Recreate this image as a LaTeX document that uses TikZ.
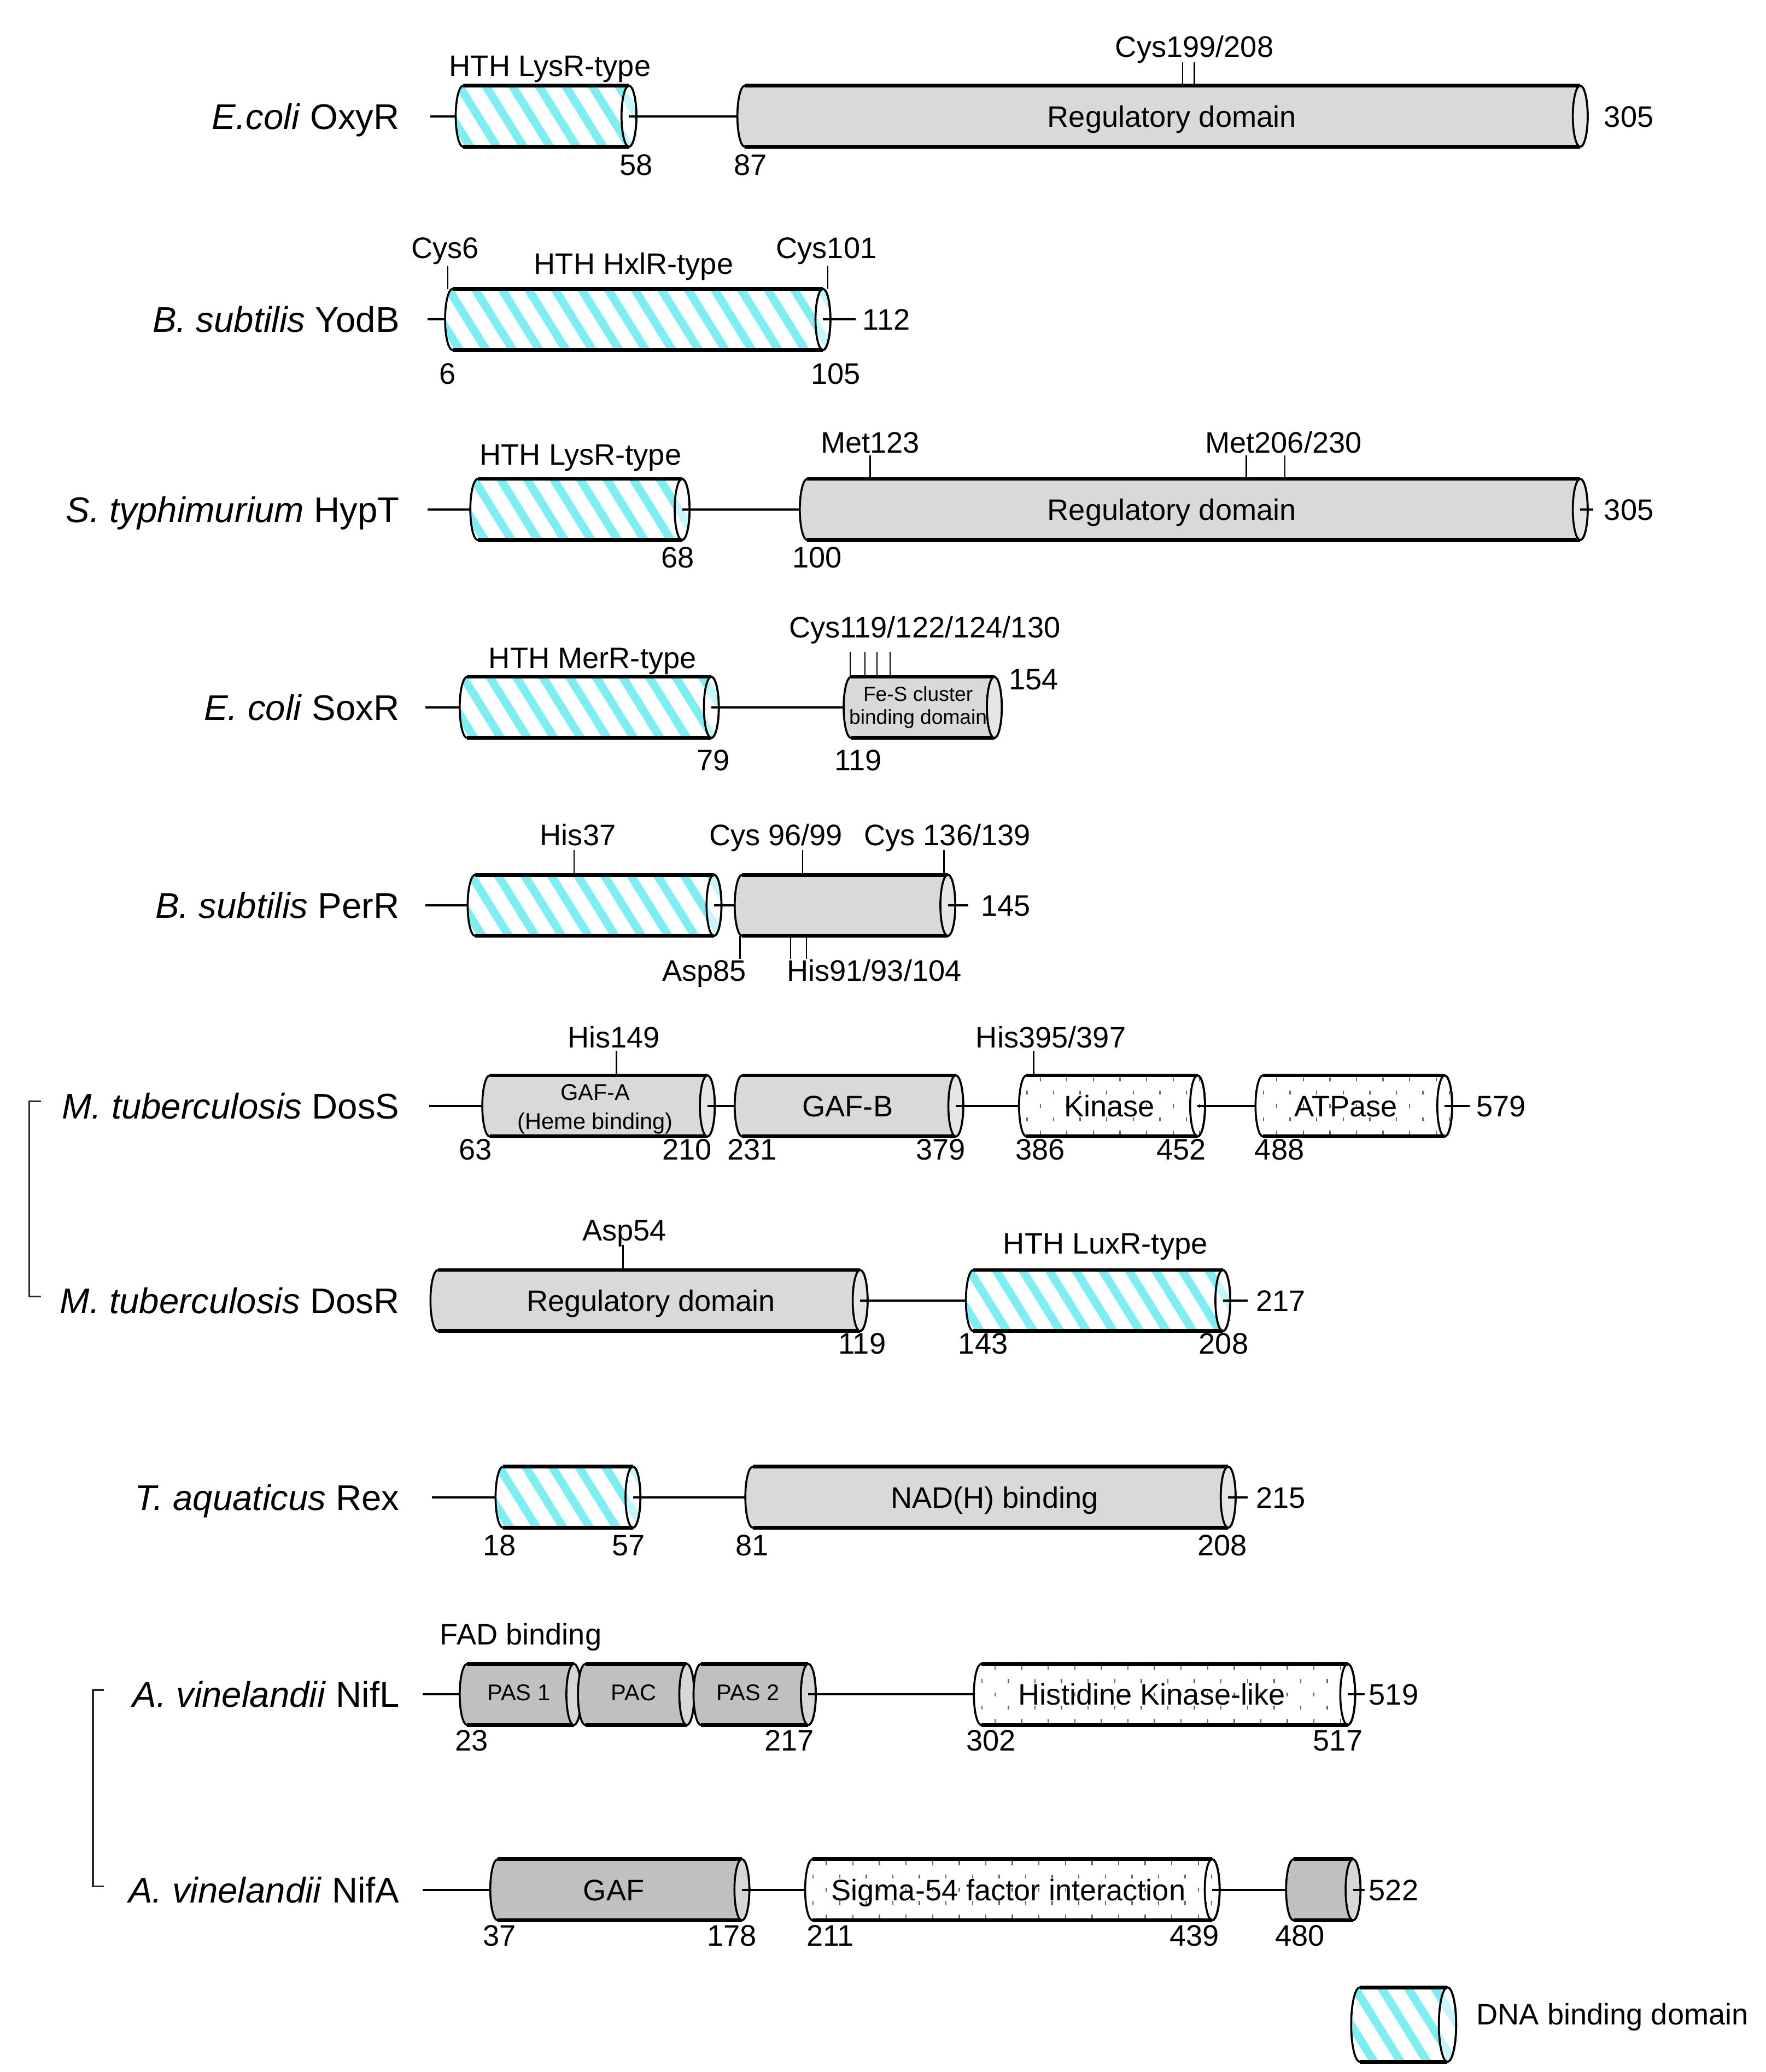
\documentclass[tikz,border=0pt]{standalone}
\usepackage{fontspec}
\setmainfont{Liberation Sans}
\definecolor{dnacyan}{RGB}{125,238,242}
\definecolor{lgray}{RGB}{217,217,217}
\definecolor{lgraycap}{RGB}{230,230,230}
\definecolor{dgray}{RGB}{192,192,192}
\definecolor{dgraycap}{RGB}{215,215,215}
\definecolor{dotcol}{RGB}{105,105,105}
\def\crx{5.6}
\def\chh{23}
\newcommand{\cylpath}[3]{(#1+\crx,#3-\chh) -- (#2-\crx,#3-\chh) .. controls (#2-0.4477*\crx,#3-\chh) and (#2,#3-0.5523*\chh) .. (#2,#3) .. controls (#2,#3+0.5523*\chh) and (#2-0.4477*\crx,#3+\chh) .. (#2-\crx,#3+\chh) -- (#1+\crx,#3+\chh) .. controls (#1+0.4477*\crx,#3+\chh) and (#1,#3+0.5523*\chh) .. (#1,#3) .. controls (#1,#3-0.5523*\chh) and (#1+0.4477*\crx,#3-\chh) .. (#1+\crx,#3-\chh) -- cycle}
\newcommand{\cylends}[4]{\coordinate (#4-w) at (#1,#3); \coordinate (#4-e) at (#2-\crx,#3);}
\newcommand{\cylframe}[3]{%
  \draw[cylside] \cylpath{#1}{#2}{#3};
  \draw[cyledge] (#1+\crx,#3-\chh) -- (#2-\crx,#3-\chh);
  \draw[cyledge] (#1+\crx,#3+\chh) -- (#2-\crx,#3+\chh);}
\newcommand{\graydom}[6]{%
  \cylends{#1}{#2}{#3}{#4}
  \fill[#5] \cylpath{#1}{#2}{#3};
  \cylframe{#1}{#2}{#3}
  \draw[cylside,fill=#6] (#2-\crx,#3) ellipse[x radius=\crx,y radius=\chh];}
\newcommand{\hatchdom}[4]{%
  \cylends{#1}{#2}{#3}{#4}
  \fill[white] \cylpath{#1}{#2}{#3};
  \begin{scope}
    \clip \cylpath{#1}{#2}{#3};
    \pgfmathtruncatemacro{\nst}{(#2-#1)/20+2}
    \foreach \k in {-5,...,\nst}{\draw[stripe] (#1+20*\k,#3-\chh-4) -- ++({0.62*(2*\chh+8)},{2*\chh+8});}
  \end{scope}
  \cylframe{#1}{#2}{#3}
  \draw[cylside,fill=white,fill opacity=0.55] (#2-\crx,#3) ellipse[x radius=\crx,y radius=\chh];}
\newcommand{\dotdom}[4]{%
  \cylends{#1}{#2}{#3}{#4}
  \fill[white] \cylpath{#1}{#2}{#3};
  \begin{scope}
    \clip \cylpath{#1}{#2}{#3};
    \pgfmathtruncatemacro{\ndt}{(#2-#1)/20}
    \foreach \k in {0,...,\ndt}{\foreach \ddy/\ddx in {-20/16,-10/6,0/16,10/6,20/16}{\draw[dotmark] (#1+\ddx+20*\k,#3+\ddy-1.5) -- ++(0,3);}}
  \end{scope}
  \cylframe{#1}{#2}{#3}
  \draw[cylside] (#2-\crx,#3) ellipse[x radius=\crx,y radius=\chh];}
\newcommand{\tickmark}[4]{\coordinate (#1-a) at (#2,#3); \coordinate (#1-b) at (#2,#4); \draw[tick] (#1-a) -- (#1-b);}
\begin{document}
\begin{tikzpicture}[x=0.02cm,y=-0.02cm,
  cylside/.style={line width=0.85pt, line join=round},
  cyledge/.style={line width=1.6pt},
  stripe/.style={dnacyan, line width=3.5pt},
  dotmark/.style={dotcol, line width=0.55pt},
  bb/.style={line width=0.95pt},
  tick/.style={line width=0.55pt},
  bracket/.style={line width=0.8pt, black!85},
  plab/.style={font=\fontsize{15.3}{18}\selectfont, anchor=base east, yshift=-5.5pt, inner sep=0pt},
  txt/.style={font=\fontsize{12.7}{15}\selectfont, anchor=base, yshift=-4.55pt, inner sep=0pt},
  txtw/.style={txt, anchor=base west},
  smalltxt/.style={font=\fontsize{9.75}{11.5}\selectfont, anchor=base, yshift=-3.5pt, inner sep=0pt},
  tinytxt/.style={font=\fontsize{8.7}{10}\selectfont, anchor=base, yshift=-3.1pt, inner sep=0pt}]
\fill[white] (0,0) rectangle (1329.2,1559.7);
\useasboundingbox (0,0) rectangle (1329.2,1559.7);

% ---------- E. coli OxyR
\node[plab] (oxyR) at (301,87.5) {\textit{E.coli} OxyR};
\coordinate (oxy-s) at (324,87.5);
\hatchdom{343}{479}{87.5}{oxyA}
\graydom{555}{1195}{87.5}{oxyB}{lgray}{lgraycap}
\draw[bb] (oxy-s) -- (oxyA-w);
\draw[bb] (oxyA-e) -- (oxyB-w);
\node[txt] (oxyHTH) at (414,49.5) {HTH LysR-type};
\node[txt] (oxyCys) at (899,35) {Cys199/208};
\tickmark{ot1}{890}{47}{64.5}
\tickmark{ot2}{899}{47}{64.5}
\node[txt] (oxyReg) at (882,87.5) {Regulatory domain};
\node[txt] (oxy58) at (479,124) {58};
\node[txt] (oxy87) at (565,124) {87};
\node[txtw] (oxy305) at (1207,87.5) {305};

% ---------- B. subtilis YodB
\node[plab] (yodB) at (301,240.5) {\textit{B. subtilis} YodB};
\coordinate (yod-s) at (322,240.5);
\coordinate (yod-t) at (644,240.5);
\hatchdom{335}{625}{240.5}{yodA}
\draw[bb] (yod-s) -- (yodA-w);
\draw[bb] (yodA-e) -- (yod-t);
\node[txt] (yodC6) at (335,186.5) {Cys6};
\node[txt] (yodC101) at (622,186.5) {Cys101};
\node[txt] (yodHTH) at (477,198.5) {HTH HxlR-type};
\tickmark{yt1}{337}{200}{217.5}
\tickmark{yt2}{623}{200}{217.5}
\node[txt] (yod6) at (337,281) {6};
\node[txt] (yod105) at (629,281) {105};
\node[txtw] (yod112) at (649,240.5) {112};

% ---------- S. typhimurium HypT
\node[plab] (hypT) at (301,383.5) {\textit{S. typhimurium} HypT};
\coordinate (hyp-s) at (322,383.5);
\coordinate (hyp-t) at (1199,383.5);
\hatchdom{354}{519}{383.5}{hypA}
\graydom{602}{1195}{383.5}{hypB}{lgray}{lgraycap}
\draw[bb] (hyp-s) -- (hypA-w);
\draw[bb] (hypA-e) -- (hypB-w);
\draw[bb] (hypB-e) -- (hyp-t);
\node[txt] (hypHTH) at (437,342) {HTH LysR-type};
\node[txt] (hypM1) at (655,333) {Met123};
\node[txt] (hypM2) at (966,333) {Met206/230};
\tickmark{ht1}{655}{343}{360.5}
\tickmark{ht2}{938}{343}{360.5}
\tickmark{ht3}{967}{343}{360.5}
\node[txt] (hypReg) at (882,383.5) {Regulatory domain};
\node[txt] (hyp68) at (510,419.5) {68};
\node[txt] (hyp100) at (615,419.5) {100};
\node[txtw] (hyp305) at (1207,383.5) {305};

% ---------- E. coli SoxR
\node[plab] (soxR) at (301,532.5) {\textit{E. coli} SoxR};
\coordinate (sox-s) at (320,532.5);
\hatchdom{346}{541}{532.5}{soxA}
\graydom{635}{754}{532.5}{soxB}{lgray}{lgraycap}
\draw[bb] (sox-s) -- (soxA-w);
\draw[bb] (soxA-e) -- (soxB-w);
\node[txt] (soxHTH) at (446,495) {HTH MerR-type};
\node[txt] (soxCys) at (696,472) {Cys119/122/124/130};
\tickmark{st1}{640}{491}{509.5}
\tickmark{st2}{651}{491}{509.5}
\tickmark{st3}{660}{491}{509.5}
\tickmark{st4}{670}{491}{509.5}
\node[tinytxt] (soxFe1) at (691,522.5) {Fe-S cluster};
\node[tinytxt] (soxFe2) at (691,539.5) {binding domain};
\node[txt] (sox79) at (537,572) {79};
\node[txt] (sox119) at (646,572) {119};
\node[txt] (sox154) at (778,511) {154};

% ---------- B. subtilis PerR
\node[plab] (perR) at (301,681.5) {\textit{B. subtilis} PerR};
\coordinate (per-s) at (320,681.5);
\coordinate (per-t) at (729,681.5);
\hatchdom{352}{543}{681.5}{perA}
\graydom{553}{719}{681.5}{perB}{lgray}{lgraycap}
\draw[bb] (per-s) -- (perA-w);
\draw[bb] (perA-e) -- (perB-w);
\draw[bb] (perB-e) -- (per-t);
\node[txt] (perH37) at (435,628.5) {His37};
\node[txt] (perC1) at (584,628.5) {Cys 96/99};
\node[txt] (perC2) at (713,628.5) {Cys 136/139};
\tickmark{pt1}{432}{640}{658.5}
\tickmark{pt2}{604}{640}{658.5}
\tickmark{pt3}{710.5}{640}{658.5}
\node[txt] (perD85) at (530,730.5) {Asp85};
\node[txt] (perH91) at (658,730.5) {His91/93/104};
\tickmark{pt4}{557}{704.5}{722}
\tickmark{pt5}{595}{704.5}{722}
\tickmark{pt6}{607}{704.5}{722}
\node[txtw] (per145) at (738,681.5) {145};

% ---------- M. tuberculosis DosS
\node[plab] (dosS) at (301,832.5) {\textit{M. tuberculosis} DosS};
\coordinate (dss-s) at (323,832.5);
\coordinate (dss-t) at (1106,832.5);
\graydom{363}{538}{832.5}{dssA}{lgray}{lgraycap}
\graydom{553}{725}{832.5}{dssB}{lgray}{lgraycap}
\dotdom{767}{907}{832.5}{dssC}
\dotdom{945}{1093}{832.5}{dssD}
\draw[bb] (dss-s) -- (dssA-w);
\draw[bb] (dssA-e) -- (dssB-w);
\draw[bb] (dssB-e) -- (dssC-w);
\draw[bb] (dssC-e) -- (dssD-w);
\draw[bb] (dssD-e) -- (dss-t);
\node[txt] (dssH149) at (462,780.5) {His149};
\node[txt] (dssH395) at (791,780.5) {His395/397};
\tickmark{dt1}{464}{791}{809.5}
\tickmark{dt2}{778}{791}{809.5}
\node[smalltxt] (dssGA) at (448,822) {GAF-A};
\node[smalltxt] (dssHeme) at (448,844) {(Heme binding)};
\node[txt] (dssGB) at (638,832.5) {GAF-B};
\node[txt] (dssK) at (835,832.5) {Kinase};
\node[txt] (dssAT) at (1013,832.5) {ATPase};
\node[txt] (dss63) at (358,865) {63};
\node[txt] (dss210) at (517,865) {210};
\node[txt] (dss231) at (566,865) {231};
\node[txt] (dss379) at (708,865) {379};
\node[txt] (dss386) at (783,865) {386};
\node[txt] (dss452) at (889,865) {452};
\node[txt] (dss488) at (963,865) {488};
\node[txtw] (dss579) at (1111,832.5) {579};

% ---------- M. tuberculosis DosR
\node[plab] (dosR) at (301,979) {\textit{M. tuberculosis} DosR};
\coordinate (dsr-t) at (939,979);
\graydom{324}{653}{979}{dsrA}{lgray}{lgraycap}
\hatchdom{727}{926}{979}{dsrB}
\draw[bb] (dsrA-e) -- (dsrB-w);
\draw[bb] (dsrB-e) -- (dsr-t);
\node[txt] (dsrD54) at (470,926) {Asp54};
\tickmark{rt1}{469}{937}{956}
\node[txt] (dsrHTH) at (832,936) {HTH LuxR-type};
\node[txt] (dsrReg) at (490,979) {Regulatory domain};
\node[txt] (dsr119) at (649,1011) {119};
\node[txt] (dsr143) at (740,1011) {143};
\node[txt] (dsr208) at (921,1011) {208};
\node[txtw] (dsr217) at (945,979) {217};

% bracket DosS / DosR
\coordinate (brA1) at (31,829);
\coordinate (brA2) at (31,976);
\draw[bracket] (brA1) -- ++(-9,0) |- (brA2);

% ---------- T. aquaticus Rex
\node[plab] (rex) at (301,1127) {\textit{T. aquaticus} Rex};
\coordinate (rex-s) at (325,1127);
\coordinate (rex-t) at (939,1127);
\hatchdom{373}{482}{1127}{rexA}
\graydom{561}{930}{1127}{rexB}{lgray}{lgraycap}
\draw[bb] (rex-s) -- (rexA-w);
\draw[bb] (rexA-e) -- (rexB-w);
\draw[bb] (rexB-e) -- (rex-t);
\node[txt] (rexNAD) at (748.5,1127) {NAD(H) binding};
\node[txt] (rex18) at (376,1163) {18};
\node[txt] (rex57) at (473,1163) {57};
\node[txt] (rex81) at (566,1163) {81};
\node[txt] (rex208) at (920,1163) {208};
\node[txtw] (rex215) at (945,1127) {215};

% ---------- A. vinelandii NifL
\node[plab] (nifL) at (301,1275.5) {\textit{A. vinelandii} NifL};
\coordinate (nfl-s) at (318,1275.5);
\coordinate (nfl-t) at (1027,1275.5);
\graydom{346}{437.5}{1275.5}{nflA}{dgray}{dgraycap}
\graydom{435}{522.5}{1275.5}{nflB}{dgray}{dgraycap}
\graydom{522}{614}{1275.5}{nflC}{dgray}{dgraycap}
\dotdom{733}{1020}{1275.5}{nflD}
\draw[bb] (nfl-s) -- (nflA-w);
\draw[bb] (nflC-e) -- (nflD-w);
\draw[bb] (nflD-e) -- (nfl-t);
\node[smalltxt] (nflP1) at (390.5,1274) {PAS 1};
\node[smalltxt] (nflPAC) at (477,1274) {PAC};
\node[smalltxt] (nflP2) at (563,1274) {PAS 2};
\node[txt] (nflHK) at (867,1275.5) {Histidine Kinase-like};
\node[txt] (nflFAD) at (392,1230) {FAD binding};
\node[txt] (nfl23) at (355,1310) {23};
\node[txt] (nfl217) at (594,1310) {217};
\node[txt] (nfl302) at (746,1310) {302};
\node[txt] (nfl517) at (1007,1310) {517};
\node[txtw] (nfl519) at (1030,1275.5) {519};

% ---------- A. vinelandii NifA
\node[plab] (nifA) at (301,1422.5) {\textit{A. vinelandii} NifA};
\coordinate (nfa-s) at (318,1422.5);
\coordinate (nfa-t) at (1027,1422.5);
\graydom{369}{564}{1422.5}{nfaA}{dgray}{dgraycap}
\dotdom{606}{918}{1422.5}{nfaB}
\graydom{968}{1024}{1422.5}{nfaC}{dgray}{dgraycap}
\draw[bb] (nfa-s) -- (nfaA-w);
\draw[bb] (nfaA-e) -- (nfaB-w);
\draw[bb] (nfaB-e) -- (nfaC-w);
\draw[bb] (nfaC-e) -- (nfa-t);
\node[txt] (nfaGAF) at (462,1422.5) {GAF};
\node[txt] (nfaSig) at (759,1422.5) {Sigma-54 factor interaction};
\node[txt] (nfa37) at (376,1457) {37};
\node[txt] (nfa178) at (551,1457) {178};
\node[txt] (nfa211) at (625,1457) {211};
\node[txt] (nfa439) at (899,1457) {439};
\node[txt] (nfa480) at (978.5,1457) {480};
\node[txtw] (nfa522) at (1030,1422.5) {522};

% bracket NifL / NifA
\coordinate (brB1) at (78,1272);
\coordinate (brB2) at (78,1420);
\draw[bracket] (brB1) -- ++(-8,0) |- (brB2);

% ---------- legend
{\def\chh{28}\def\crx{6.5}\hatchdom{1017}{1096}{1524}{legA}}
\node[txtw] (legT) at (1111,1516) {DNA binding domain};
\end{tikzpicture}
\end{document}
